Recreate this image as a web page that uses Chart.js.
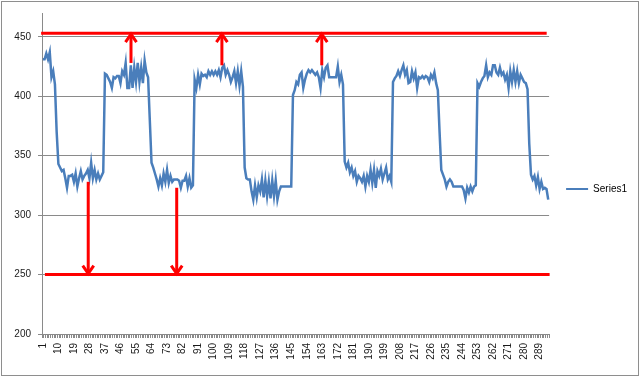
<!DOCTYPE html>
<html>
<head>
<meta charset="utf-8">
<script src="https://cdn.jsdelivr.net/npm/chart.js@4.4.1/dist/chart.umd.min.js"></script>
<style>
  html, body { margin: 0; padding: 0; background: #fff; }
  #wrap { position: relative; width: 640px; height: 377px; }
</style>
</head>
<body>
<div id="wrap"><canvas id="c" width="640" height="377"></canvas></div>
<script>
// ---- data ----
const seriesName = 'Series1';
const series1 = [
  431, 431, 436, 431, 437, 416, 421, 410, 370,
  343, 340, 337, 338, 331, 323, 333, 333, 334, 328, 335, 324, 331, 337, 330, 333, 335, 338, 331, 344, 331, 338, 330, 335, 330, 333, 336,
  419, 418, 415, 412, 407, 416, 415, 417, 417, 411, 421, 418,
  428, 407, 407, 426, 407, 424, 412, 428, 412, 424, 411, 430, 420, 416, 380, 344,
  340, 335, 330, 324, 331, 325, 335, 328, 338, 327, 333, 328, 330, 330, 330, 329, 323, 329, 329, 333, 324, 331, 323, 325,
  414, 407, 418, 410, 419, 417, 418, 416, 421, 418, 421,
  418, 421, 418, 422, 416, 424, 426, 418, 422, 418, 412, 416, 421, 411, 421, 409, 421, 408,
  340, 331, 330, 330, 320, 313, 325, 315, 325, 320, 330, 315, 329, 316, 328, 314, 329, 316, 329, 313, 320, 324, 324, 324, 324, 324, 324, 324,
  401, 405, 412, 410, 418, 420, 407, 414, 419, 422, 420, 422, 420, 418, 420, 416, 407, 422, 416, 424, 426, 416, 416, 416, 416, 416, 425, 412, 418, 410,
  345, 340, 344, 336, 340, 333, 337, 328, 333, 331, 328, 333, 324, 333, 328, 338, 327, 338, 323, 337, 333, 339, 330, 335, 340, 330, 333, 328,
  412, 415, 417, 421, 417, 422, 426, 418, 422, 411, 412, 421, 415, 420, 407, 416, 415, 417, 415, 417, 416, 412, 418, 415, 420, 411,
  405, 370, 338, 334, 330, 324, 328, 330, 328, 324, 324, 324, 324, 324, 324, 321, 314, 323, 319, 324, 320, 324, 325,
  411, 408, 412, 415, 417, 426, 416, 420, 418, 426, 426, 420, 418, 424, 418, 420, 414, 418, 407, 421, 412, 422, 412, 421, 411, 418, 415, 412, 411, 406,
  360, 334, 330, 333, 325, 332, 322, 328, 322, 323, 322, 313
];
const categories = series1.map((v, i) => String(i + 1));
const tickLabels = ['1','10','19','28','37','46','55','64','73','82','91','100','109','118','127','136','145','154','163','172','181','190','199','208','217','226','235','244','253','262','271','280','289'];
const yTicks = [200, 250, 300, 350, 400, 450];
const yMin = 200, yMax = 470;
// red limit lines: value, and category span
const limitValues = [453, 250];
const limitFrom = [0.0, 2.2];
const limitTo = [293.1, 294.8];
// red arrows (category position, start value, end value)
const upArrowAt = [52.1, 104.8, 162.7];
const upArrowFrom = [428, 426, 426];
const upArrowTo = [453, 453, 453];
const downArrowAt = [27.3, 78.6];
const downArrowFrom = [328, 323];
const downArrowTo = [250, 250];

const FONT = 'Liberation Sans';
const GRID = '#8a8a8a';
const RED = '#ff0000';
const BLUE = '#4a7ebb';
const TEXT = '#1a1a1a';

function catX(xs, pos) {
  const p0 = xs.getPixelForValue(0), p1 = xs.getPixelForValue(1);
  return p0 + (pos - 1) * (p1 - p0);
}

const annotations = {
  id: 'annotations',
  afterLayout(chart) {
    const lg = chart.legend;
    if (!lg) return;
    const dx = 7, dy = -6;
    lg.left += dx; lg.right += dx;
    lg.top += dy; lg.bottom += dy;
    (lg.legendHitBoxes || []).forEach(b => { b.left += dx; b.top += dy; });
  },
  beforeDraw(chart) {
    const ctx = chart.ctx;
    ctx.save();
    ctx.fillStyle = '#fff';
    ctx.fillRect(0, 0, chart.width, chart.height);
    ctx.strokeStyle = '#8e8e8e';
    ctx.lineWidth = 1;
    ctx.strokeRect(1.5, 1.5, chart.width - 3, chart.height - 3);
    ctx.restore();
  },
  afterDatasetsDraw(chart) {
    const ctx = chart.ctx, xs = chart.scales.x, ys = chart.scales.y;
    ctx.save();
    ctx.strokeStyle = RED;
    ctx.lineWidth = 3;
    ctx.lineCap = 'butt';
    limitValues.forEach((v, k) => {
      const y = ys.getPixelForValue(v);
      ctx.beginPath();
      ctx.moveTo(catX(xs, limitFrom[k]), y);
      ctx.lineTo(catX(xs, limitTo[k]), y);
      ctx.stroke();
    });
    function arrow(pos, from, to) {
      const x = catX(xs, pos);
      const y0 = ys.getPixelForValue(from), y1 = ys.getPixelForValue(to);
      const dir = y1 < y0 ? 1 : -1; // 1 = up
      ctx.beginPath();
      ctx.moveTo(x, y0);
      ctx.lineTo(x, y1 + dir * 1);
      ctx.stroke();
      ctx.beginPath();
      ctx.moveTo(x - 5.5, y1 + dir * 9);
      ctx.lineTo(x, y1 + dir * 1);
      ctx.lineTo(x + 5.5, y1 + dir * 9);
      ctx.stroke();
    }
    upArrowAt.forEach((p, k) => arrow(p, upArrowFrom[k], upArrowTo[k]));
    downArrowAt.forEach((p, k) => arrow(p, downArrowFrom[k], downArrowTo[k]));
    ctx.restore();
  }
};

new Chart(document.getElementById('c'), {
  type: 'line',
  data: {
    labels: categories,
    datasets: [{
      label: seriesName,
      data: series1,
      borderColor: BLUE,
      backgroundColor: BLUE,
      borderWidth: 2.5,
      pointRadius: 0,
      tension: 0,
      fill: false
    }]
  },
  options: {
    responsive: false,
    animation: false,
    devicePixelRatio: 1,
    layout: { padding: { left: 0, right: 10, top: 13, bottom: 0 } },
    plugins: {
      tooltip: { enabled: false },
      legend: {
        position: 'right',
        labels: {
          boxWidth: 22,
          boxHeight: 2,
          padding: 10,
          color: TEXT,
          font: { family: FONT, size: 10 },
          generateLabels(chart) {
            return [{ text: seriesName, fillStyle: BLUE, strokeStyle: BLUE, lineWidth: 0, datasetIndex: 0 }];
          }
        }
      }
    },
    scales: {
      x: {
        type: 'category',
        offset: true,
        grid: { display: true, drawOnChartArea: false, drawTicks: true, tickLength: 4, color: GRID, offset: true },
        border: { display: true, color: GRID, width: 1 },
        ticks: {
          autoSkip: false,
          maxRotation: 90,
          minRotation: 90,
          padding: 5,
          color: TEXT,
          font: { family: FONT, size: 10 },
          callback(val, idx) {
            const l = categories[idx];
            return tickLabels.includes(l) ? l : '';
          }
        },
        afterFit(scale) { scale.height = 43; }
      },
      y: {
        min: yMin,
        max: yMax,
        grid: { color: GRID, tickLength: 4, drawTicks: true },
        border: { display: true, color: GRID, width: 1 },
        ticks: {
          stepSize: 50,
          padding: 7,
          color: TEXT,
          font: { family: FONT, size: 10 }
        },
        afterBuildTicks(scale) {
          scale.ticks = yTicks.map(v => ({ value: v }));
        },
        afterFit(scale) { scale.width = 42; }
      }
    }
  },
  plugins: [annotations]
});
</script>
</body>
</html>
